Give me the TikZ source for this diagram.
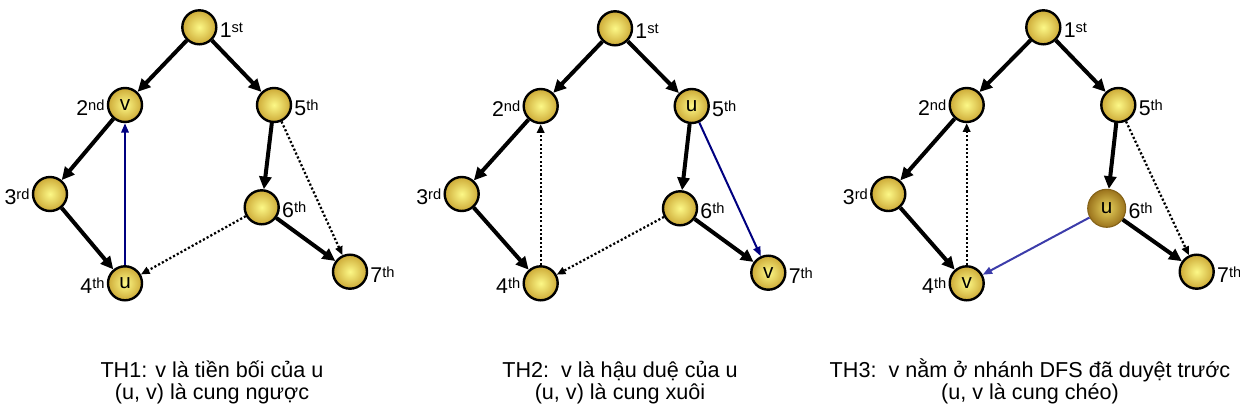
\documentclass[tikz,border=0pt]{standalone}
\usepackage{fontspec}
\setmainfont{Liberation Sans}
\usetikzlibrary{arrows.meta}
\definecolor{ballin}{RGB}{252,248,135}
\definecolor{ballout}{RGB}{205,170,55}
\definecolor{uin}{RGB}{232,212,95}
\definecolor{uout}{RGB}{155,115,28}
\definecolor{navyA}{RGB}{0,0,128}
\definecolor{blueC}{RGB}{60,60,170}
\newcommand\sups[1]{\raisebox{4pt}{\fontsize{11}{12}\selectfont #1}}
\begin{document}
\begin{tikzpicture}[x=0.75pt,y=-0.75pt,
  ball/.style={circle,draw=black,line width=1.8pt,minimum size=25.5pt,inner sep=0pt,
    inner color=ballin,outer color=ballout,font=\fontsize{15.5}{17}\selectfont},
  uball/.style={circle,draw=uout!85!black,line width=0.8pt,minimum size=28.5pt,inner sep=0pt,
    inner color=uin,outer color=uout,font=\fontsize{15.5}{17}\selectfont},
  lbl/.style={inner sep=1.5pt,font=\fontsize{16}{17}\selectfont,yshift=-2pt},
  tree/.style={line width=3pt,-{Triangle[length=9.5pt,width=9pt]}},
  back/.style={line width=1.7pt,dash pattern=on 1.6pt off 1.6pt,-{Triangle[length=6.5pt,width=5.5pt]}},
  bluearr/.style={navyA,line width=1.5pt,-{Triangle[length=7pt,width=5.5pt]}},
  captxt/.style={anchor=base,inner sep=0pt,font=\fontsize{16.2}{17}\selectfont}
]
\useasboundingbox (0,0) rectangle (1240,414);
% ---------- Panel 1 ----------
\node[ball,label={[lbl]east:1\sups{st}}] (a1) at (199.3,27.3) {};
\node[ball,label={[lbl]west:2\sups{nd}}] (a2) at (125,105) {v};
\node[ball,label={[lbl]west:3\sups{rd}}] (a3) at (50,194) {};
\node[ball,label={[lbl]west:4\sups{th}}] (a4) at (125,283.3) {u};
\node[ball,label={[lbl]east:5\sups{th}}] (a5) at (274,105) {};
\node[ball,label={[lbl]east:6\sups{th}}] (a6) at (261.7,207.3) {};
\node[ball,label={[lbl]east:7\sups{th}}] (a7) at (350,271.7) {};
\draw[tree] (a1) -- (a2);
\draw[tree] (a1) -- (a5);
\draw[tree] (a2) -- (a3);
\draw[tree] (a3) -- (a4);
\draw[tree] (a5) -- (a6);
\draw[tree] (a6) -- (a7);
\draw[bluearr] (a4) -- (a2);
\draw[back] (a6) -- (a4);
\draw[back] (a5) -- (a7);
\node[captxt] (t1a) at (212,377) {TH1: v là tiền bối của u};
\node[captxt] (t1b) at (212,399.5) {(u, v) là cung ngược};
% ---------- Panel 2 ----------
\node[ball,label={[lbl]east:1\sups{st}}] (b1) at (615,28.3) {};
\node[ball,label={[lbl]west:2\sups{nd}}] (b2) at (540.7,106) {};
\node[ball,label={[lbl]west:3\sups{rd}}] (b3) at (461.7,194) {};
\node[ball,label={[lbl]west:4\sups{th}}] (b4) at (540.7,283.3) {};
\node[ball,label={[lbl]east:5\sups{th}}] (b5) at (691.7,106) {u};
\node[ball,label={[lbl]east:6\sups{th}}] (b6) at (680,208.3) {};
\node[ball,label={[lbl]east:7\sups{th}}] (b7) at (768.3,272.7) {v};
\draw[tree] (b1) -- (b2);
\draw[tree] (b1) -- (b5);
\draw[tree] (b2) -- (b3);
\draw[tree] (b3) -- (b4);
\draw[tree] (b5) -- (b6);
\draw[tree] (b6) -- (b7);
\draw[back] (b4) -- (b2);
\draw[back] (b6) -- (b4);
\draw[bluearr] (b5) -- (b7);
\node[captxt] (t2a) at (620,377) {TH2:\ \ v là hậu duệ của u};
\node[captxt] (t2b) at (620,399.5) {(u, v) là cung xuôi};
% ---------- Panel 3 ----------
\node[ball,label={[lbl]east:1\sups{st}}] (c1) at (1043.3,27.3) {};
\node[ball,label={[lbl]west:2\sups{nd}}] (c2) at (966.7,105) {};
\node[ball,label={[lbl]west:3\sups{rd}}] (c3) at (888.3,194) {};
\node[ball,label={[lbl]west:4\sups{th}}] (c4) at (966.7,283.3) {v};
\node[ball,label={[lbl]east:5\sups{th}}] (c5) at (1118.3,105) {};
\node[uball,label={[lbl]east:6\sups{th}}] (c6) at (1106.7,208.3) {u};
\node[ball,label={[lbl]east:7\sups{th}}] (c7) at (1196.7,271.7) {};
\draw[tree] (c1) -- (c2);
\draw[tree] (c1) -- (c5);
\draw[tree] (c2) -- (c3);
\draw[tree] (c3) -- (c4);
\draw[tree] (c5) -- (c6);
\draw[tree] (c6) -- (c7);
\draw[back] (c4) -- (c2);
\draw[back] (c5) -- (c7);
\draw[bluearr,blueC] (c6) -- (c4);
\node[captxt] (t3a) at (1030,377) {TH3:\ \ v nằm ở nhánh DFS đã duyệt trước};
\node[captxt] (t3b) at (1030,399.5) {(u, v là cung chéo)};
\end{tikzpicture}
\end{document}
